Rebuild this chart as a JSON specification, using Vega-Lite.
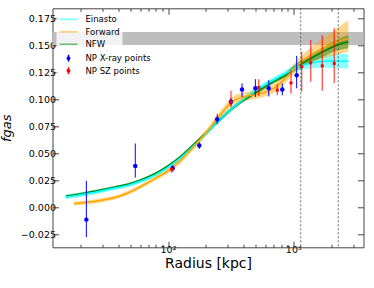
{
  "$schema": "https://vega.github.io/schema/vega-lite/v6.json",
  "width": 311,
  "height": 239,
  "autosize": "none",
  "padding": {"left": 52.5, "top": 8.3, "right": 10.5, "bottom": 40.7},
  "config": {
    "view": {"stroke": null},
    "axis": {"labelFont": "DejaVu Sans", "titleFont": "DejaVu Sans", "labelColor": "#000", "titleColor": "#000", "domainColor": "#444", "tickColor": "#444", "grid": false, "labelFontSize": 9.5},
    "legend": {"layout": {"top-left": {"margin": 0, "direction": "vertical", "anchor": "start"}}}
  },
  "datasets": {
    "curves": [
      {"model": "NFW", "r": 15.29, "f": 0.0102, "lo": 0.0090, "hi": 0.0114},
      {"model": "NFW", "r": 18.58, "f": 0.0117, "lo": 0.0105, "hi": 0.0129},
      {"model": "NFW", "r": 23.46, "f": 0.0138, "lo": 0.0126, "hi": 0.0150},
      {"model": "NFW", "r": 30.34, "f": 0.0163, "lo": 0.0151, "hi": 0.0175},
      {"model": "NFW", "r": 38.25, "f": 0.0188, "lo": 0.0176, "hi": 0.0200},
      {"model": "NFW", "r": 48.3, "f": 0.0213, "lo": 0.0201, "hi": 0.0225},
      {"model": "NFW", "r": 61.4, "f": 0.0255, "lo": 0.0243, "hi": 0.0267},
      {"model": "NFW", "r": 78.8, "f": 0.031, "lo": 0.0298, "hi": 0.0322},
      {"model": "NFW", "r": 99.4, "f": 0.038, "lo": 0.0368, "hi": 0.0392},
      {"model": "NFW", "r": 126.5, "f": 0.047, "lo": 0.0455, "hi": 0.0485},
      {"model": "NFW", "r": 160.4, "f": 0.058, "lo": 0.0565, "hi": 0.0595},
      {"model": "NFW", "r": 204.8, "f": 0.0695, "lo": 0.068, "hi": 0.071},
      {"model": "NFW", "r": 259.6, "f": 0.081, "lo": 0.0795, "hi": 0.0825},
      {"model": "NFW", "r": 330.2, "f": 0.092, "lo": 0.0905, "hi": 0.0935},
      {"model": "NFW", "r": 420.1, "f": 0.1005, "lo": 0.099, "hi": 0.102},
      {"model": "NFW", "r": 533.5, "f": 0.108, "lo": 0.106, "hi": 0.110},
      {"model": "NFW", "r": 678.7, "f": 0.1155, "lo": 0.1135, "hi": 0.1175},
      {"model": "NFW", "r": 861.7, "f": 0.122, "lo": 0.120, "hi": 0.124},
      {"model": "NFW", "r": 1096, "f": 0.131, "lo": 0.128, "hi": 0.134},
      {"model": "NFW", "r": 1395, "f": 0.138, "lo": 0.134, "hi": 0.142},
      {"model": "NFW", "r": 1771, "f": 0.1445, "lo": 0.140, "hi": 0.149},
      {"model": "NFW", "r": 2253, "f": 0.150, "lo": 0.145, "hi": 0.155},
      {"model": "NFW", "r": 2748, "f": 0.153, "lo": 0.147, "hi": 0.159},
      {"model": "Einasto", "r": 15.29, "f": 0.0095, "lo": 0.0075, "hi": 0.0115},
      {"model": "Einasto", "r": 18.58, "f": 0.011, "lo": 0.009, "hi": 0.013},
      {"model": "Einasto", "r": 23.46, "f": 0.013, "lo": 0.011, "hi": 0.015},
      {"model": "Einasto", "r": 30.34, "f": 0.0155, "lo": 0.0135, "hi": 0.0175},
      {"model": "Einasto", "r": 38.25, "f": 0.018, "lo": 0.016, "hi": 0.020},
      {"model": "Einasto", "r": 48.3, "f": 0.0205, "lo": 0.0185, "hi": 0.0225},
      {"model": "Einasto", "r": 61.4, "f": 0.0245, "lo": 0.0225, "hi": 0.0265},
      {"model": "Einasto", "r": 78.8, "f": 0.030, "lo": 0.028, "hi": 0.032},
      {"model": "Einasto", "r": 99.4, "f": 0.037, "lo": 0.035, "hi": 0.039},
      {"model": "Einasto", "r": 126.5, "f": 0.046, "lo": 0.0438, "hi": 0.0482},
      {"model": "Einasto", "r": 160.4, "f": 0.057, "lo": 0.0548, "hi": 0.0592},
      {"model": "Einasto", "r": 204.8, "f": 0.069, "lo": 0.0668, "hi": 0.0712},
      {"model": "Einasto", "r": 259.6, "f": 0.081, "lo": 0.0788, "hi": 0.0832},
      {"model": "Einasto", "r": 330.2, "f": 0.092, "lo": 0.0898, "hi": 0.0942},
      {"model": "Einasto", "r": 420.1, "f": 0.1015, "lo": 0.0993, "hi": 0.1037},
      {"model": "Einasto", "r": 533.5, "f": 0.110, "lo": 0.1075, "hi": 0.1125},
      {"model": "Einasto", "r": 678.7, "f": 0.117, "lo": 0.1145, "hi": 0.1195},
      {"model": "Einasto", "r": 861.7, "f": 0.1235, "lo": 0.1205, "hi": 0.1265},
      {"model": "Einasto", "r": 1096, "f": 0.130, "lo": 0.126, "hi": 0.134},
      {"model": "Einasto", "r": 1395, "f": 0.1335, "lo": 0.1285, "hi": 0.1385},
      {"model": "Einasto", "r": 1771, "f": 0.135, "lo": 0.129, "hi": 0.141},
      {"model": "Einasto", "r": 2253, "f": 0.1352, "lo": 0.1287, "hi": 0.1417},
      {"model": "Einasto", "r": 2748, "f": 0.135, "lo": 0.128, "hi": 0.142},
      {"model": "Forward", "r": 17.8, "f": 0.0034, "lo": 0.0016, "hi": 0.0052},
      {"model": "Forward", "r": 18.58, "f": 0.0036, "lo": 0.0018, "hi": 0.0054},
      {"model": "Forward", "r": 23.46, "f": 0.0048, "lo": 0.003, "hi": 0.0066},
      {"model": "Forward", "r": 30.34, "f": 0.0068, "lo": 0.005, "hi": 0.0086},
      {"model": "Forward", "r": 38.25, "f": 0.0092, "lo": 0.0074, "hi": 0.011},
      {"model": "Forward", "r": 48.3, "f": 0.0135, "lo": 0.0115, "hi": 0.0155},
      {"model": "Forward", "r": 61.4, "f": 0.0195, "lo": 0.0175, "hi": 0.0215},
      {"model": "Forward", "r": 78.8, "f": 0.0265, "lo": 0.0245, "hi": 0.0285},
      {"model": "Forward", "r": 99.4, "f": 0.0335, "lo": 0.0312, "hi": 0.0358},
      {"model": "Forward", "r": 126.5, "f": 0.0435, "lo": 0.041, "hi": 0.046},
      {"model": "Forward", "r": 160.4, "f": 0.056, "lo": 0.0535, "hi": 0.0585},
      {"model": "Forward", "r": 204.8, "f": 0.070, "lo": 0.067, "hi": 0.073},
      {"model": "Forward", "r": 259.6, "f": 0.085, "lo": 0.0815, "hi": 0.0885},
      {"model": "Forward", "r": 330.2, "f": 0.0985, "lo": 0.0945, "hi": 0.1025},
      {"model": "Forward", "r": 420.1, "f": 0.1025, "lo": 0.0985, "hi": 0.1065},
      {"model": "Forward", "r": 533.5, "f": 0.105, "lo": 0.101, "hi": 0.109},
      {"model": "Forward", "r": 678.7, "f": 0.109, "lo": 0.105, "hi": 0.113},
      {"model": "Forward", "r": 861.7, "f": 0.119, "lo": 0.115, "hi": 0.123},
      {"model": "Forward", "r": 1096, "f": 0.132, "lo": 0.127, "hi": 0.137},
      {"model": "Forward", "r": 1395, "f": 0.141, "lo": 0.134, "hi": 0.148},
      {"model": "Forward", "r": 1771, "f": 0.1475, "lo": 0.138, "hi": 0.157},
      {"model": "Forward", "r": 2253, "f": 0.153, "lo": 0.141, "hi": 0.166},
      {"model": "Forward", "r": 2748, "f": 0.156, "lo": 0.144, "hi": 0.173}
    ],
    "points": [
      {"series": "NP X-ray points", "r": 22.3, "f": -0.0114, "lo": -0.0275, "hi": 0.0244},
      {"series": "NP X-ray points", "r": 54.8, "f": 0.0382, "lo": 0.0275, "hi": 0.059},
      {"series": "NP X-ray points", "r": 109, "f": 0.0361, "lo": 0.033, "hi": 0.039},
      {"series": "NP X-ray points", "r": 177.8, "f": 0.0571, "lo": 0.054, "hi": 0.060},
      {"series": "NP X-ray points", "r": 247, "f": 0.0815, "lo": 0.077, "hi": 0.086},
      {"series": "NP X-ray points", "r": 318, "f": 0.0975, "lo": 0.094, "hi": 0.101},
      {"series": "NP X-ray points", "r": 390, "f": 0.109, "lo": 0.102, "hi": 0.1145},
      {"series": "NP X-ray points", "r": 498, "f": 0.110, "lo": 0.102, "hi": 0.1185},
      {"series": "NP X-ray points", "r": 637, "f": 0.110, "lo": 0.1025, "hi": 0.1175},
      {"series": "NP X-ray points", "r": 817, "f": 0.109, "lo": 0.1035, "hi": 0.1145},
      {"series": "NP X-ray points", "r": 1064, "f": 0.122, "lo": 0.110, "hi": 0.140},
      {"series": "NP SZ points", "r": 107, "f": 0.0352, "lo": 0.032, "hi": 0.038},
      {"series": "NP SZ points", "r": 318, "f": 0.0975, "lo": 0.0923, "hi": 0.1077},
      {"series": "NP SZ points", "r": 530, "f": 0.1108, "lo": 0.103, "hi": 0.1185},
      {"series": "NP SZ points", "r": 745, "f": 0.1083, "lo": 0.1035, "hi": 0.114},
      {"series": "NP SZ points", "r": 959, "f": 0.115, "lo": 0.105, "hi": 0.127},
      {"series": "NP SZ points", "r": 1167, "f": 0.130, "lo": 0.107, "hi": 0.144},
      {"series": "NP SZ points", "r": 1377, "f": 0.1336, "lo": 0.116, "hi": 0.1546},
      {"series": "NP SZ points", "r": 1703, "f": 0.1308, "lo": 0.1077, "hi": 0.159},
      {"series": "NP SZ points", "r": 2123, "f": 0.133, "lo": 0.115, "hi": 0.1655}
    ],
    "vlines": [{"r": 1146}, {"r": 2286}],
    "band": [{"lo": 0.150, "hi": 0.162}]
  },
  "resolve": {"axis": {"x": "independent", "y": "independent"}},
  "layer": [
    {
      "data": {"name": "band"},
      "mark": {"type": "rect", "color": "#bdbdbd"},
      "encoding": {
        "y": {"field": "lo", "type": "quantitative", "scale": {"domain": [-0.037, 0.184], "nice": false, "zero": false}, "axis": null},
        "y2": {"field": "hi"}
      }
    },
    {
      "data": {"name": "curves"},
      "transform": [{"filter": "datum.model == 'Einasto'"}],
      "mark": {"type": "area", "opacity": 0.45, "interpolate": "monotone", "color": "#00ffff"},
      "encoding": {
        "x": {"field": "r", "type": "quantitative", "scale": {"type": "log", "domain": [11.97, 3634], "nice": false},
          "axis": {"orient": "bottom", "values": [100, 1000], "tickSize": -6, "labelPadding": 3, "labelExpr": "datum.value == 100 ? '10²' : '10³'", "title": "Radius [kpc]", "titleFontSize": 14, "titleFontWeight": "normal", "titlePadding": 3}},
        "y": {"field": "lo", "type": "quantitative", "scale": {"domain": [-0.037, 0.184], "nice": false, "zero": false},
          "axis": {"orient": "left", "values": [-0.025, 0, 0.025, 0.05, 0.075, 0.1, 0.125, 0.15, 0.175], "tickSize": -6, "labelPadding": 3, "labelExpr": "replace(format(datum.value, '.3f'), '-', '−')", "title": "fgas", "titleFontSize": 13, "titleFontStyle": "italic", "titleFontWeight": "normal", "titlePadding": 7}},
        "y2": {"field": "hi"}
      }
    },
    {
      "data": {"name": "curves"},
      "transform": [{"filter": "datum.model == 'Forward'"}],
      "mark": {"type": "area", "opacity": 0.45, "interpolate": "monotone", "color": "#ffa500"},
      "encoding": {
        "x": {"field": "r", "type": "quantitative", "scale": {"type": "log", "domain": [11.97, 3634], "nice": false}, "axis": null},
        "y": {"field": "lo", "type": "quantitative", "scale": {"domain": [-0.037, 0.184], "nice": false, "zero": false}, "axis": null},
        "y2": {"field": "hi"}
      }
    },
    {
      "data": {"name": "curves"},
      "transform": [{"filter": "datum.model == 'NFW'"}],
      "mark": {"type": "area", "opacity": 0.45, "interpolate": "monotone", "color": "#008000"},
      "encoding": {
        "x": {"field": "r", "type": "quantitative", "scale": {"type": "log", "domain": [11.97, 3634], "nice": false}, "axis": null},
        "y": {"field": "lo", "type": "quantitative", "scale": {"domain": [-0.037, 0.184], "nice": false, "zero": false}, "axis": null},
        "y2": {"field": "hi"}
      }
    },
    {
      "data": {"name": "curves"},
      "mark": {"type": "line", "strokeWidth": 1.5, "interpolate": "monotone"},
      "encoding": {
        "x": {"field": "r", "type": "quantitative", "scale": {"type": "log", "domain": [11.97, 3634], "nice": false},
          "axis": {"orient": "top", "values": [100, 1000], "tickSize": -6, "labels": false, "title": null}},
        "y": {"field": "f", "type": "quantitative", "scale": {"domain": [-0.037, 0.184], "nice": false, "zero": false},
          "axis": {"orient": "right", "values": [-0.025, 0, 0.025, 0.05, 0.075, 0.1, 0.125, 0.15, 0.175], "tickSize": -6, "labels": false, "title": null}},
        "stroke": {"field": "model", "type": "nominal",
          "scale": {"domain": ["Einasto", "Forward", "NFW"], "range": ["#00ffff", "#ffa500", "#008000"]},
          "legend": {
            "orient": "top-left", "offset": 4, "title": null, "padding": 2,
            "fillColor": "rgba(255,255,255,0.8)",
            "labelFont": "DejaVu Sans", "labelFontSize": 8.5, "labelColor": "#000",
            "symbolType": "stroke", "symbolSize": 324, "symbolStrokeWidth": 1.8, "symbolOpacity": 0.5,
            "rowPadding": 2.5, "labelOffset": 7, "clipHeight": 10
          }
        }
      }
    },
    {
      "data": {"name": "vlines"},
      "mark": {"type": "rule", "color": "#444", "strokeDash": [2, 2], "strokeWidth": 0.8},
      "encoding": {
        "x": {"field": "r", "type": "quantitative", "scale": {"type": "log", "domain": [11.97, 3634], "nice": false},
          "axis": {"orient": "bottom", "values": [20, 30, 40, 50, 60, 70, 80, 90, 200, 300, 400, 500, 600, 700, 800, 900, 2000, 3000], "tickSize": -3, "labels": false, "domain": false, "title": null}}
      }
    },
    {
      "data": {"name": "points"},
      "mark": {"type": "rule"},
      "encoding": {
        "x": {"field": "r", "type": "quantitative", "scale": {"type": "log", "domain": [11.97, 3634], "nice": false},
          "axis": {"orient": "top", "values": [20, 30, 40, 50, 60, 70, 80, 90, 200, 300, 400, 500, 600, 700, 800, 900, 2000, 3000], "tickSize": -3, "labels": false, "domain": false, "title": null}},
        "y": {"field": "lo", "type": "quantitative", "scale": {"domain": [-0.037, 0.184], "nice": false, "zero": false}, "axis": null},
        "y2": {"field": "hi"},
        "color": {"field": "series", "type": "nominal",
          "scale": {"domain": ["NP X-ray points", "NP SZ points"], "range": ["#0000ff", "#ff0000"]},
          "legend": {
            "orient": "top-left", "offset": 4, "title": null, "padding": 2,
            "fillColor": "rgba(255,255,255,0.8)",
            "labelFont": "DejaVu Sans", "labelFontSize": 8.5, "labelColor": "#000",
            "symbolType": "M0,-0.39V0.39M-0.139,0a0.139,0.139 0 1,0 0.278,0a0.139,0.139 0 1,0 -0.278,0",
            "symbolSize": 324, "symbolStrokeWidth": 1.5, "symbolOpacity": 1,
            "rowPadding": 2.5, "labelOffset": 7, "clipHeight": 10
          }
        },
        "opacity": {"condition": {"test": "datum.series == 'NP SZ points'", "value": 0.7}, "value": 1},
        "strokeWidth": {"condition": {"test": "datum.series == 'NP SZ points'", "value": 1.3}, "value": 1}
      }
    },
    {
      "data": {"name": "points"},
      "transform": [{"filter": "datum.series == 'NP X-ray points'"}],
      "mark": {"type": "circle", "size": 20, "opacity": 1},
      "encoding": {
        "x": {"field": "r", "type": "quantitative", "scale": {"type": "log", "domain": [11.97, 3634], "nice": false}, "axis": null},
        "y": {"field": "f", "type": "quantitative", "scale": {"domain": [-0.037, 0.184], "nice": false, "zero": false}, "axis": null},
        "color": {"field": "series", "type": "nominal", "legend": null}
      }
    },
    {
      "data": {"name": "points"},
      "transform": [{"filter": "datum.series == 'NP SZ points'"}],
      "mark": {"type": "square", "size": 9, "opacity": 1},
      "encoding": {
        "x": {"field": "r", "type": "quantitative", "scale": {"type": "log", "domain": [11.97, 3634], "nice": false}, "axis": null},
        "y": {"field": "f", "type": "quantitative", "scale": {"domain": [-0.037, 0.184], "nice": false, "zero": false}, "axis": null},
        "color": {"field": "series", "type": "nominal", "legend": null}
      }
    }
  ]
}
